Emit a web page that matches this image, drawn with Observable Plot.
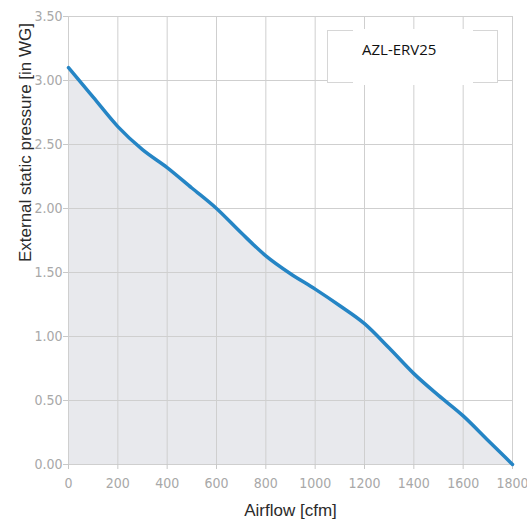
<!DOCTYPE html>
<html>
<head>
<meta charset="utf-8">
<script src="https://cdn.jsdelivr.net/npm/d3@7"></script>
<script src="https://cdn.jsdelivr.net/npm/@observablehq/plot@0.6"></script>
<style>
  html, body { margin: 0; padding: 0; background: #fff; }
  #wrap { position: relative; width: 527px; height: 521px; }
  #legend { position: absolute; left: 327px; top: 30px; width: 169px; height: 51px; border: 1px solid #d6d6d6; background: #fff; }
  #legend-cover { position: absolute; left: 353px; top: 29px; width: 120px; height: 56px; background: #fff; }
  #legend-text { position: absolute; left: 362px; top: 39px; font-family: "Open Sans", "Liberation Sans", sans-serif; font-size: 15px; color: #111; white-space: nowrap; }
</style>
</head>
<body>
<div id="wrap"></div>
<script>
const airflow = [0, 100, 200, 300, 400, 500, 600, 700, 800, 900, 1000, 1100, 1200, 1300, 1400, 1500, 1600, 1700, 1800];
const pressure = [3.10, 2.87, 2.64, 2.46, 2.32, 2.16, 2.00, 1.81, 1.63, 1.49, 1.37, 1.24, 1.10, 0.91, 0.71, 0.54, 0.38, 0.19, 0.00];
const xTicks = [0, 200, 400, 600, 800, 1000, 1200, 1400, 1600, 1800];
const yTicks = [0, 0.5, 1.0, 1.5, 2.0, 2.5, 3.0, 3.5];
const xTitle = "Airflow [cfm]";
const yTitle = "External static pressure [in WG]";
const seriesName = "AZL-ERV25";

const data = airflow.map((x, i) => ({x, y: pressure[i]}));
const tickFont = '"Liberation Sans Narrow", "DejaVu Sans Condensed", sans-serif';

const chart = Plot.plot({
  width: 527,
  height: 521,
  marginLeft: 68,
  marginRight: 15,
  marginTop: 16,
  marginBottom: 57,
  style: { background: "#fff", overflow: "visible" },
  x: { domain: [0, 1800] },
  y: { domain: [0, 3.5] },
  marks: [
    Plot.areaY(data, { x: "x", y: "y", fill: "#e8e9ed", curve: "monotone-x" }),
    Plot.gridX(xTicks, { stroke: "#cfcfcf", strokeOpacity: 1, strokeWidth: 1 }),
    Plot.gridY(yTicks, { stroke: "#cfcfcf", strokeOpacity: 1, strokeWidth: 1 }),
    Plot.axisX({ ticks: xTicks, tickSize: 5, tickPadding: 9, stroke: "#c8c8c8", fill: "#a8a8a8", fontSize: 14, fontFamily: tickFont, label: null, tickFormat: d3.format("d") }),
    Plot.axisY({ ticks: yTicks, tickSize: 5, tickPadding: 1, stroke: "#c8c8c8", fill: "#a8a8a8", fontSize: 14, fontFamily: tickFont, label: null, tickFormat: d3.format(".2f") }),
    Plot.lineY(data, { x: "x", y: "y", stroke: "#2585c5", strokeWidth: 3.5, curve: "monotone-x" }),
    Plot.text([xTitle], { frameAnchor: "bottom", dy: 51, textAnchor: "middle", lineAnchor: "bottom", fontSize: 17, fill: "#2b2b2b", fontFamily: '"Liberation Sans", sans-serif' }),
    Plot.text([yTitle], { frameAnchor: "top-left", dx: -43, dy: 126, rotate: -90, textAnchor: "middle", lineAnchor: "middle", fontSize: 17, fill: "#2b2b2b", fontFamily: '"Liberation Sans", sans-serif' })
  ]
});

const wrap = document.getElementById("wrap");
wrap.appendChild(chart);
const legend = document.createElement("div"); legend.id = "legend"; wrap.appendChild(legend);
const cover = document.createElement("div"); cover.id = "legend-cover"; wrap.appendChild(cover);
const lt = document.createElement("div"); lt.id = "legend-text"; lt.textContent = seriesName; wrap.appendChild(lt);
</script>
</body>
</html>
